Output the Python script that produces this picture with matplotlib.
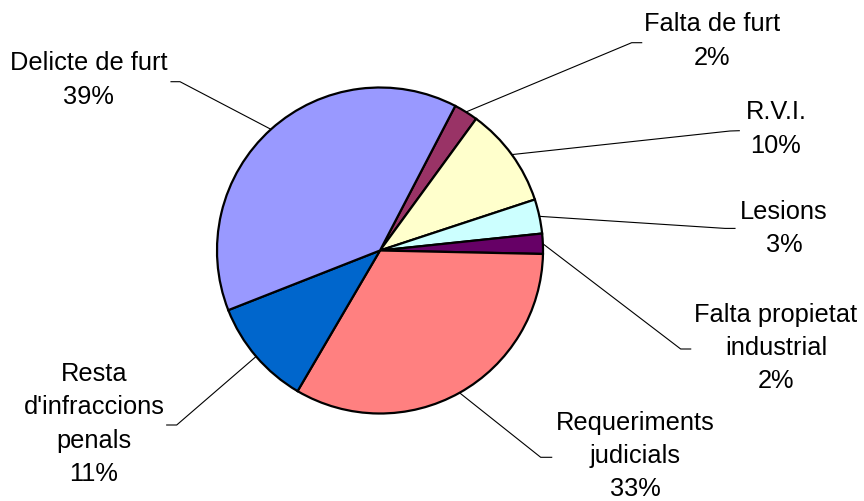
import numpy as np
import matplotlib
matplotlib.use("Agg")
import matplotlib.pyplot as plt

plt.rcParams['font.family'] = ['Liberation Sans', 'DejaVu Sans']

# dades (percentatges)
categories = ["Falta de furt", "R.V.I.", "Lesions", "Falta propietat\nindustrial",
              "Requeriments\njudicials", "Resta\nd'infraccions\npenals", "Delicte de furt"]
values = [2.4, 9.9, 3.4, 2.0, 33.1, 10.6, 38.6]
colors = ["#993366", "#FFFFCC", "#CCFFFF", "#660066", "#FF8080", "#0066CC", "#9999FF"]

W, H = 864, 501
cx, cy, R = 380, 250.5, 163   # centre i radi del pastís en píxels

fig = plt.figure(figsize=(W / 100, H / 100), dpi=100)
ax = fig.add_axes([(cx - R) / W, (H - cy - R) / H, 2 * R / W, 2 * R / H])

start = 27.5  # graus en sentit horari des de les 12
wedges, _ = ax.pie(values, colors=colors, startangle=90 - start, counterclock=False,
                   radius=1, wedgeprops=dict(edgecolor="black", linewidth=1.6))
ax.set_xlim(-1, 1)
ax.set_ylim(-1, 1)
ax.axis("off")


def px(x, y):
    return (x - cx) / R, (cy - y) / R


# posicions de les etiquetes (píxels): colze, final de la línia, centre del text
elbows = [(631.7, 42.7), (730, 131), (725, 228.4), (680.7, 349),
          (540.7, 457.3), (176.7, 425), (180, 81.7)]
ends = [(641.7, 42.7), (739.3, 130.7), (735, 228.4), (690.7, 349),
        (551.7, 457.3), (166.7, 425), (171, 81.7)]
text_pos = [(712, 41), (776, 129), (784, 228.5), (776, 348),
            (635, 456), (94, 424), (88.5, 80)]

total = sum(values)
for w, cat, v, el, en, tp in zip(wedges, categories, values, elbows, ends, text_pos):
    ang = np.deg2rad((w.theta1 + w.theta2) / 2)
    x0, y0 = np.cos(ang) * 1.0, np.sin(ang) * 1.0
    x1, y1 = px(*el)
    x2, y2 = px(*en)
    ax.plot([x0, x1, x2], [y0, y1, y2], color="black", lw=0.8, clip_on=False)
    tx, ty = px(*tp)
    ax.text(tx, ty, f"{cat}\n{round(v / total * 100)}%", ha="center", va="center",
            multialignment="center", fontsize=18.3, linespacing=1.48, clip_on=False)

fig.savefig("out.png", dpi=100)
